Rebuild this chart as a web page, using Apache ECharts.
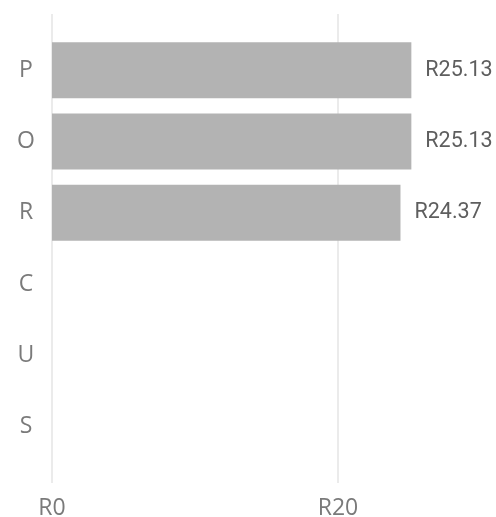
<!DOCTYPE html>
<html>
<head>
<meta charset="utf-8">
<script src="https://cdn.jsdelivr.net/npm/echarts@6/dist/echarts.min.js"></script>
<style>
  html, body { margin: 0; padding: 0; background: #fff; }
  #chart { width: 496px; height: 517px; }
</style>
</head>
<body>
<div id="chart"></div>
<script>
// chart data
const categories = ['P', 'O', 'R', 'C', 'U', 'S'];
const values = [25.13, 25.13, 24.37, null, null, null];
const xMin = 0;
const xMax = 40;
const xStep = 20;

const chart = echarts.init(document.getElementById('chart'), null, { renderer: 'canvas' });

const labelFont = '"Open Sans", sans-serif';
const valueFont = 'Roboto, sans-serif';

const option = {
  animation: false,
  grid: [
    // background grid: gridlines and x labels
    { left: 52, top: 14, width: 572, height: 469, outerBoundsMode: 'none', containLabel: false },
    // bars and categories
    { left: 52, top: 34.5, width: 572, height: 428, outerBoundsMode: 'none', containLabel: false }
  ],
  xAxis: [
    {
      gridIndex: 0,
      type: 'value',
      min: xMin,
      max: xMax,
      interval: xStep,
      axisLine: { show: false },
      axisTick: { show: false },
      splitLine: { show: true, lineStyle: { color: '#ebebeb', width: 2 } },
      axisLabel: {
        formatter: v => 'R' + v,
        fontFamily: labelFont,
        fontSize: 23,
        color: '#7a7a7a',
        margin: 14
      }
    },
    {
      gridIndex: 1,
      type: 'value',
      min: xMin,
      max: xMax,
      show: false
    }
  ],
  yAxis: [
    {
      gridIndex: 0,
      type: 'value',
      show: false
    },
    {
      gridIndex: 1,
      type: 'category',
      data: categories,
      inverse: true,
      axisLine: { show: false },
      axisTick: { show: false },
      axisLabel: {
        fontFamily: labelFont,
        fontSize: 23,
        color: '#7a7a7a',
        align: 'center',
        margin: 26
      }
    }
  ],
  series: [
    {
      type: 'bar',
      xAxisIndex: 1,
      yAxisIndex: 1,
      data: values,
      barWidth: 56,
      itemStyle: { color: '#b3b3b3' },
      label: {
        show: true,
        position: 'right',
        distance: 14,
        formatter: p => 'R' + p.value.toFixed(2),
        fontFamily: valueFont,
        fontSize: 21.5,
        color: '#5e5e5e'
      }
    }
  ]
};

chart.setOption(option);
</script>
</body>
</html>
